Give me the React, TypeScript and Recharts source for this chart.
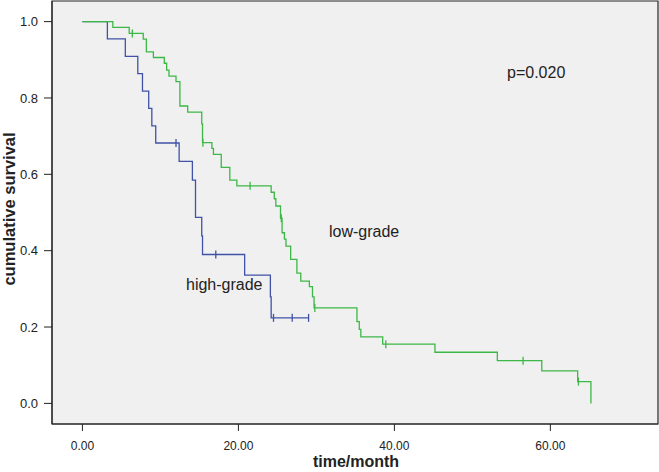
import {
    ComposedChart,
    Line,
    Scatter,
    XAxis,
    YAxis,
    CartesianGrid,
    ReferenceArea,
} from 'recharts'

// Kaplan-Meier estimates (time in months, cumulative survival)
const highTimes = [0, 3.2, 5.5, 7.1, 7.7, 8.5, 8.9, 9.4, 12.4, 14.1, 14.5, 15.3, 15.4, 20.8, 24.1, 24.2, 29.0]
const highSurv = [1.0, 0.955, 0.909, 0.864, 0.818, 0.773, 0.727, 0.682, 0.634, 0.585, 0.487, 0.439, 0.39, 0.336, 0.279, 0.224, 0.224]
const highCensorTimes = [12.0, 17.1, 24.5, 26.9, 29.0]
const highCensorSurv = [0.682, 0.39, 0.224, 0.224, 0.224]

const lowTimes = [
    0, 3.9, 6.0, 7.8, 8.2, 9.1, 10.5, 10.8, 11.1, 12.0, 12.5, 13.5, 15.3, 15.4, 16.6, 16.8, 17.8, 18.9, 19.8,
    24.2, 24.6, 24.8, 25.4, 25.6, 25.9, 26.1, 26.7, 27.5, 28.0, 29.1, 29.5, 29.7, 35.2, 35.5, 35.7, 38.5,
    45.2, 53.2, 58.9, 63.5, 65.2,
]
const lowSurv = [
    1.0, 0.985, 0.969, 0.954, 0.921, 0.906, 0.891, 0.873, 0.857, 0.843, 0.779, 0.763, 0.732, 0.683, 0.668,
    0.652, 0.618, 0.585, 0.57, 0.553, 0.536, 0.517, 0.485, 0.447, 0.43, 0.412, 0.377, 0.341, 0.32, 0.306,
    0.279, 0.25, 0.214, 0.194, 0.174, 0.155, 0.134, 0.112, 0.085, 0.057, 0.0,
]
const lowCensorTimes = [6.4, 15.45, 21.5, 25.5, 29.8, 38.9, 56.5, 63.6]
const lowCensorSurv = [0.969, 0.683, 0.57, 0.485, 0.25, 0.155, 0.112, 0.057]

const xTicks = [0, 20, 40, 60]
const yTicks = [0, 0.2, 0.4, 0.6, 0.8, 1.0]

const X_DOMAIN: [number, number] = [-3.9, 73.8]
const Y_DOMAIN: [number, number] = [-0.054, 1.054]

const BLUE = '#4052a6'
const GREEN = '#3cb846'
const TEXT = '#222'

const toPoints = (times: number[], surv: number[]) => times.map((t, i) => ({ t, s: surv[i] }))

const highData = toPoints(highTimes, highSurv)
const lowData = toPoints(lowTimes, lowSurv)
const highCensors = toPoints(highCensorTimes, highCensorSurv)
const lowCensors = toPoints(lowCensorTimes, lowCensorSurv)

function CensorMark(color: string) {
    return (props: any) => {
        const { cx, cy } = props
        return <line x1={cx} x2={cx} y1={cy - 4} y2={cy + 4} stroke={color} strokeWidth={1.3} />
    }
}

export default function App() {
    return (
        <div style={{ position: 'absolute', left: 0, top: 0, width: 659, height: 472, background: '#fff' }}>
            <ComposedChart
                width={659}
                height={472}
                margin={{ top: 1, right: 1, left: 0, bottom: 0 }}
                style={{ fontFamily: '"Liberation Sans", Arial, sans-serif' }}
            >
                <CartesianGrid fill="#f0f0f0" horizontal={false} vertical={false} />
                <XAxis
                    type="number"
                    dataKey="t"
                    domain={X_DOMAIN}
                    ticks={xTicks}
                    allowDataOverflow
                    tickFormatter={(v: number) => v.toFixed(2)}
                    tick={{ fontSize: 12, fill: TEXT }}
                    tickSize={7}
                    tickMargin={10}
                    height={48}
                    stroke="#222"
                />
                <YAxis
                    type="number"
                    dataKey="s"
                    domain={Y_DOMAIN}
                    ticks={yTicks}
                    allowDataOverflow
                    tickFormatter={(v: number) => v.toFixed(1)}
                    tick={{ fontSize: 13, fill: TEXT }}
                    tickSize={8}
                    tickMargin={6}
                    width={52}
                    stroke="#222"
                />
                <ReferenceArea
                    x1={X_DOMAIN[0]}
                    x2={X_DOMAIN[1]}
                    y1={Y_DOMAIN[0]}
                    y2={Y_DOMAIN[1]}
                    fill="none"
                    stroke="#222"
                    strokeWidth={1.2}
                />
                <Line
                    data={highData}
                    dataKey="s"
                    type="stepAfter"
                    stroke={BLUE}
                    strokeWidth={1.3}
                    dot={false}
                    activeDot={false}
                    isAnimationActive={false}
                />
                <Line
                    data={lowData}
                    dataKey="s"
                    type="stepAfter"
                    stroke={GREEN}
                    strokeWidth={1.3}
                    dot={false}
                    activeDot={false}
                    isAnimationActive={false}
                />
                <Scatter data={highCensors} dataKey="s" shape={CensorMark(BLUE)} isAnimationActive={false} />
                <Scatter data={lowCensors} dataKey="s" shape={CensorMark(GREEN)} isAnimationActive={false} />
            </ComposedChart>
            <svg
                width={659}
                height={472}
                style={{ position: 'absolute', left: 0, top: 0, pointerEvents: 'none' }}
                fontFamily='"Liberation Sans", Arial, sans-serif'
            >
                <text x={507} y={78} fontSize={16} fill={TEXT}>p=0.020</text>
                <text x={329} y={237} fontSize={16} fill={TEXT}>low-grade</text>
                <text x={186} y={290} fontSize={16} fill={TEXT}>high-grade</text>
                <text x={356} y={467} fontSize={16} fontWeight="bold" textAnchor="middle" fill={TEXT}>
                    time/month
                </text>
                <text
                    x={14.5}
                    y={209}
                    fontSize={16.5}
                    fontWeight="bold"
                    textAnchor="middle"
                    fill={TEXT}
                    transform="rotate(-90 14.5 209)"
                >
                    cumulative survival
                </text>
            </svg>
        </div>
    )
}
